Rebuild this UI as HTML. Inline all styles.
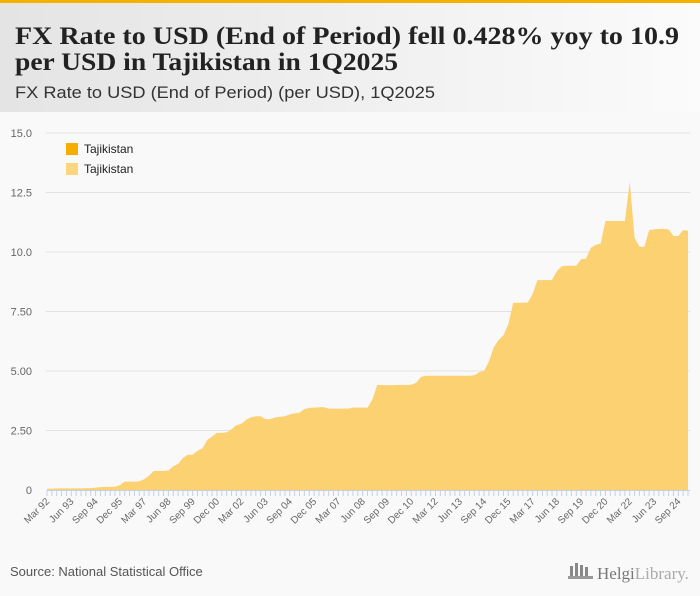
<!DOCTYPE html>
<html><head><meta charset="utf-8"><style>
html,body{margin:0;padding:0;width:700px;height:596px;overflow:hidden;background:#f9f9f9;font-family:"Liberation Sans",sans-serif}
</style></head><body>
<svg id="chart" width="700" height="596" xmlns="http://www.w3.org/2000/svg">
<defs><linearGradient id="hg" x1="0" x2="1" y1="0" y2="0"><stop offset="0" stop-color="#e4e4e4"/><stop offset="1" stop-color="#fbfbfb"/></linearGradient></defs>
<rect x="0" y="0" width="700" height="112" fill="url(#hg)"/>
<rect x="0" y="0" width="700" height="3" fill="#f6b000"/>
<text x="15" y="44" font-family="'Liberation Serif',serif" font-weight="bold" font-size="25" fill="#222" textLength="664" lengthAdjust="spacingAndGlyphs">FX Rate to USD (End of Period) fell 0.428% yoy to 10.9</text>
<text x="15" y="70" font-family="'Liberation Serif',serif" font-weight="bold" font-size="25" fill="#222" textLength="383" lengthAdjust="spacingAndGlyphs">per USD in Tajikistan in 1Q2025</text>
<text x="15" y="98" font-size="17" fill="#333" textLength="420" lengthAdjust="spacingAndGlyphs">FX Rate to USD (End of Period) (per USD), 1Q2025</text>
<g id="grid"></g>
<g id="area"></g>
<g id="xaxis"></g>
<g>
<rect x="66" y="143" width="12" height="12" fill="#f7ad00"/>
<text x="84" y="153" font-size="12" fill="#222">Tajikistan</text>
<rect x="66" y="163" width="12" height="12" fill="#fcd67e"/>
<text x="84" y="173" font-size="12" fill="#222">Tajikistan</text>
</g>
<rect x="0" y="550" width="700" height="46" fill="#f9f9f9"/>
<text x="10" y="576" font-size="13" fill="#555">Source: National Statistical Office</text>
<g>
<rect x="570" y="566" width="3" height="10" fill="#888"/><rect x="575" y="563" width="3" height="13" fill="#888"/><rect x="580" y="565" width="3" height="11" fill="#888"/><rect x="585" y="567" width="3" height="9" fill="#888"/>
<rect x="568" y="576" width="25" height="3" fill="#999"/>
<text x="597" y="579" font-family="'Liberation Serif',serif" font-size="17" fill="#777">Helgi<tspan fill="#aaa">Library.</tspan></text>
</g>
</svg>
<script>
const yTicks=[0,2.5,5,7.5,10,12.5,15];
const yTickLabels=["0","2.50","5.00","7.50","10.0","12.5","15.0"];
const monthNames=["Mar","Jun","Sep","Dec"];
const startYear=1992;
const values=[0.05,0.06,0.07,0.07,0.07,0.07,0.07,0.07,0.08,0.08,0.1,0.12,0.13,0.13,0.14,
0.2,0.35,0.35,0.35,0.36,
0.45,0.6,0.8,0.8,0.8,
0.82,1.0,1.1,1.35,1.48,
1.48,1.65,1.75,2.1,2.25,
2.4,2.4,2.42,2.55,2.72,
2.78,2.95,3.05,3.1,3.1,
2.98,2.98,3.05,3.08,3.1,
3.18,3.22,3.25,3.4,3.45,
3.46,3.47,3.48,3.42,3.42,
3.42,3.42,3.42,3.46,3.46,
3.46,3.46,3.8,4.41,4.41,
4.4,4.4,4.41,4.41,4.41,
4.42,4.5,4.75,4.8,4.8,
4.8,4.8,4.8,4.8,4.8,
4.8,4.8,4.8,4.82,4.95,
5.0,5.4,6.0,6.3,6.5,
6.97,7.87,7.87,7.87,7.88,
8.23,8.82,8.82,8.82,8.83,
9.2,9.4,9.42,9.42,9.43,
9.7,9.72,10.18,10.3,10.35,
11.3,11.3,11.3,11.3,11.3,
12.95,10.6,10.22,10.22,10.92,
10.95,10.97,10.97,10.95,10.67,
10.67,10.92,10.9];
const NS="http://www.w3.org/2000/svg";
const X0=47,X1=688,Y0=490,Y1=133,YMAX=15;
const n=values.length;
function xs(i){return X0+(X1-X0)*i/(n-1);}
function ys(v){return Y0-(Y0-Y1)*v/YMAX;}
function mk(tag,attrs,parent){const e=document.createElementNS(NS,tag);for(const k in attrs)e.setAttribute(k,attrs[k]);parent.appendChild(e);return e;}
const grid=document.getElementById('grid');
yTicks.forEach((t,k)=>{
  if(t>0){const l=mk('line',{x1:46,x2:690,y1:ys(t),y2:ys(t),stroke:'#e2e2e2','stroke-width':1},grid);
  
  }
  const tx=mk('text',{x:32,y:ys(t)+4,'text-anchor':'end','font-size':11,fill:'#666'},grid);
  tx.textContent=yTickLabels[k];
  
  
});
let d='M'+xs(0)+','+Y0;
values.forEach((v,i)=>{d+=' L'+xs(i).toFixed(2)+','+ys(v).toFixed(2);});
d+=' L'+xs(n-1)+','+Y0+' Z';
const p=mk('path',{d:d,fill:'#fbd172'},document.getElementById('area'));


const xa=document.getElementById('xaxis');
const ax=mk('line',{x1:X0,x2:X1+2,y1:Y0+0.5,y2:Y0+0.5,stroke:'#c5d0e6'},xa);


for(let i=0;i<n;i++){
  const x=xs(i);
  const tk=mk('line',{x1:x,x2:x,y1:Y0,y2:Y0+6,stroke:'#c5d0e6'},xa);
  
  
  if(i%5===0){
    const yr=startYear+Math.floor(i/4);
    const lab=monthNames[i%4]+' '+String(yr%100).padStart(2,'0');
    const t=mk('text',{x:x+3,y:Y0+12,'text-anchor':'end','font-size':10,fill:'#666',transform:'rotate(-45 '+(x+3)+' '+(Y0+12)+')'},xa);
    t.textContent=lab;
    
    
  }
}
</script>
</body></html>
